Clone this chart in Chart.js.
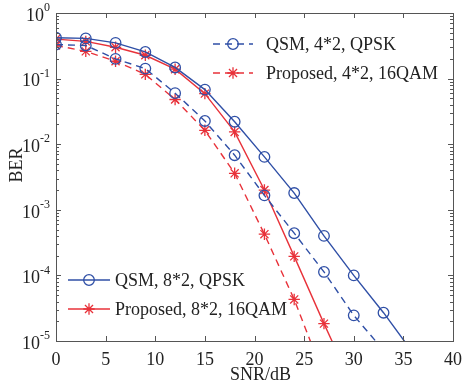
<!DOCTYPE html>
<html>
<head>
<meta charset="utf-8">
<script src="https://cdn.jsdelivr.net/npm/chart.js@4/dist/chart.umd.min.js"></script>
<style>
  html, body { margin: 0; padding: 0; background: #fff; }
</style>
</head>
<body>
<canvas id="berChart" width="470" height="385"></canvas>
<script>
// SNR points (dB) - markers every 3 dB
const snrDb = [0, 3, 6, 9, 12, 15, 18, 21, 24, 27, 30, 33, 36];

// BER values (last value of each runs below 1e-5 and is clipped)
const qsm42 = [0.33, 0.32, 0.20, 0.142, 0.060, 0.0226, 0.0068, 0.00166, 4.4e-4, 1.13e-4, 2.46e-5, 7.2e-6];
const prop42 = [0.32, 0.26, 0.184, 0.116, 0.048, 0.0163, 0.0036, 4.25e-4, 4.3e-5, 2.9e-6];
const qsm82 = [0.42, 0.41, 0.35, 0.255, 0.148, 0.068, 0.022, 0.0064, 0.0018, 4.0e-4, 1.0e-4, 2.7e-5, 6.5e-6];
const prop82 = [0.40, 0.37, 0.30, 0.227, 0.139, 0.059, 0.0154, 0.0020, 1.95e-4, 1.84e-5, 1.9e-6];

const xTicks = [0, 5, 10, 15, 20, 25, 30, 35, 40];
const yExponents = [0, -1, -2, -3, -4, -5];

const blue = '#2f4fa6';
const red = '#e8323a';
const axisColor = '#555';
const textColor = '#222';
const font = 'Liberation Serif, Times New Roman, serif';

function toPoints(vals) {
  return vals.map((v, i) => ({ x: snrDb[i], y: v }));
}

function series(label, vals, color, dashed, marker) {
  return {
    label: label,
    data: toPoints(vals),
    borderColor: color,
    backgroundColor: 'transparent',
    borderWidth: 1.4,
    borderDash: dashed ? [7, 5] : [],
    pointStyle: marker,
    pointRadius: marker === 'star' ? 5.7 : 5.3,
    pointBorderWidth: 1.3,
    pointBorderColor: color,
    pointBackgroundColor: 'transparent',
    tension: 0
  };
}

function drawMarker(ctx, style, cx, cy, r) {
  ctx.beginPath();
  if (style === 'circle') {
    ctx.arc(cx, cy, r, 0, Math.PI * 2);
  } else {
    for (let k = 0; k < 4; k++) {
      const a = k * Math.PI / 4;
      ctx.moveTo(cx - r * Math.cos(a), cy - r * Math.sin(a));
      ctx.lineTo(cx + r * Math.cos(a), cy + r * Math.sin(a));
    }
  }
  ctx.stroke();
}

const decor = {
  id: 'decor',
  afterDraw(chart) {
    const { ctx, chartArea: a, scales: { x, y } } = chart;
    ctx.save();
    ctx.strokeStyle = axisColor;
    ctx.lineWidth = 1;
    ctx.strokeRect(a.left + 0.5, a.top + 0.5, a.right - a.left, a.bottom - a.top);

    // x ticks, inside, top and bottom
    ctx.beginPath();
    xTicks.forEach(v => {
      const px = Math.round(x.getPixelForValue(v)) + 0.5;
      ctx.moveTo(px, a.bottom); ctx.lineTo(px, a.bottom - 5);
      ctx.moveTo(px, a.top); ctx.lineTo(px, a.top + 5);
    });
    // y ticks (log, major + minor), inside, left and right
    yExponents.forEach(e => {
      for (let m = 1; m <= 9; m++) {
        const v = m * Math.pow(10, e);
        if (v > 1) continue;
        const py = Math.round(y.getPixelForValue(v)) + 0.5;
        const len = m === 1 ? 5 : 3;
        ctx.moveTo(a.left, py); ctx.lineTo(a.left + len, py);
        ctx.moveTo(a.right, py); ctx.lineTo(a.right - len, py);
      }
    });
    ctx.stroke();

    // y tick labels 10^e
    ctx.fillStyle = textColor;
    ctx.textBaseline = 'middle';
    yExponents.forEach(e => {
      const py = y.getPixelForValue(Math.pow(10, e));
      const exp = e === 0 ? '0' : '-' + (-e);
      ctx.font = '12px ' + font;
      const ew = ctx.measureText(exp).width;
      const right = a.left - 6;
      ctx.textAlign = 'left';
      ctx.fillText(exp, right - ew, py - 5);
      ctx.font = '18px ' + font;
      ctx.textAlign = 'right';
      ctx.fillText('10', right - ew, py + 3);
    });

    // axis titles
    ctx.font = '18px ' + font;
    ctx.textAlign = 'center';
    ctx.fillText('SNR/dB', (a.left + a.right) / 2 + 6, 375);
    ctx.save();
    ctx.translate(17.5, 165);
    ctx.rotate(-Math.PI / 2);
    ctx.fillText('BER', 0, 0);
    ctx.restore();

    // two legends
    const drawEntry = (ds, x0, x1, tx, ty) => {
      ctx.strokeStyle = ds.borderColor;
      ctx.lineWidth = 1.4;
      ctx.setLineDash(ds.borderDash);
      ctx.beginPath();
      ctx.moveTo(x0, ty); ctx.lineTo(x1, ty);
      ctx.stroke();
      ctx.setLineDash([]);
      ctx.lineWidth = 1.3;
      drawMarker(ctx, ds.pointStyle, (x0 + x1) / 2, ty, ds.pointRadius);
      ctx.fillStyle = textColor;
      ctx.font = '18px ' + font;
      ctx.textAlign = 'left';
      ctx.textBaseline = 'middle';
      ctx.fillText(ds.label, tx, ty + 1);
    };
    const dsets = chart.data.datasets;
    drawEntry(dsets[0], 213, 253, 266, 44);
    drawEntry(dsets[1], 213, 253, 266, 73);
    drawEntry(dsets[2], 68, 110, 115, 280);
    drawEntry(dsets[3], 68, 110, 115, 309);
    ctx.restore();
  }
};

new Chart(document.getElementById('berChart'), {
  type: 'line',
  data: {
    datasets: [
      series('QSM, 4*2, QPSK', qsm42, blue, true, 'circle'),
      series('Proposed, 4*2, 16QAM', prop42, red, true, 'star'),
      series('QSM, 8*2, QPSK', qsm82, blue, false, 'circle'),
      series('Proposed, 8*2, 16QAM', prop82, red, false, 'star')
    ]
  },
  options: {
    responsive: false,
    animation: false,
    devicePixelRatio: 1,
    layout: { padding: { top: 13, right: 16, left: 0, bottom: 0 } },
    plugins: {
      legend: { display: false },
      tooltip: { enabled: false }
    },
    scales: {
      x: {
        type: 'linear',
        min: 0,
        max: 40,
        ticks: { stepSize: 5, padding: 8, color: textColor, font: { family: font, size: 18 }, maxRotation: 0 },
        grid: { display: false, drawTicks: false },
        border: { display: false },
        title: { display: false },
        afterFit(s) { s.height = 44; }
      },
      y: {
        type: 'logarithmic',
        min: 1e-5,
        max: 1,
        ticks: { display: false },
        grid: { display: false, drawTicks: false },
        border: { display: false },
        title: { display: false },
        afterFit(s) { s.width = 56; }
      }
    }
  },
  plugins: [decor]
});
</script>
</body>
</html>
